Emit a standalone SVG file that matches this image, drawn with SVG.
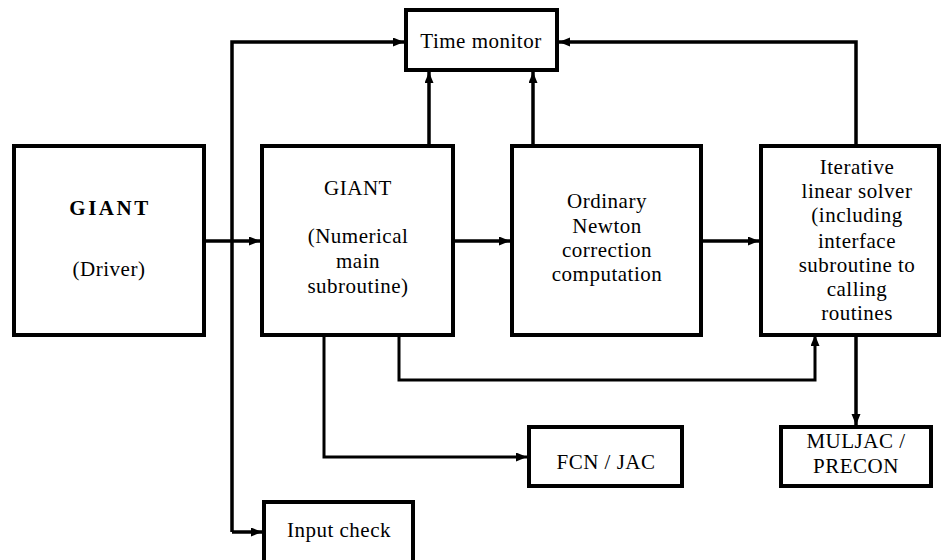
<svg xmlns="http://www.w3.org/2000/svg" width="942" height="560" viewBox="0 0 942 560" font-family="Liberation Serif, DejaVu Serif, serif">
  <style>
    .box { fill: #ffffff; stroke: #000000; stroke-width: 4; }
    .edge { fill: none; stroke: #000000; stroke-width: 3.5; stroke-linejoin: miter; }
    .thin { stroke-width: 3; }
    .label { font-size: 21px; fill: #000000; text-anchor: middle; letter-spacing: 0.5px; }
    .bold { font-weight: bold; letter-spacing: 2.5px; }
  </style>
  <defs>
    <marker id="arrow" markerUnits="userSpaceOnUse" markerWidth="12" markerHeight="10" refX="11" refY="4.5" orient="auto">
      <path d="M0,0 L11,4.5 L0,9 z" fill="#000000"/>
    </marker>
  </defs>

  <rect width="942" height="560" fill="#ffffff"/>

  <!-- connectors -->
  <g id="connectors">
    <path class="edge" d="M206,241 H260" marker-end="url(#arrow)"/>
    <path class="edge" d="M455,241 H510" marker-end="url(#arrow)"/>
    <path class="edge" d="M703,241 H759" marker-end="url(#arrow)"/>
    <path class="edge" d="M429,144 V72" marker-end="url(#arrow)"/>
    <path class="edge" d="M533,144 V72" marker-end="url(#arrow)"/>
    <path class="edge" d="M856,144 V42 H559" marker-end="url(#arrow)"/>
    <path class="edge" d="M232,532 V42 H404" marker-end="url(#arrow)"/>
    <path class="edge" d="M232,532 H262" marker-end="url(#arrow)"/>
    <path class="edge thin" d="M324,335 V457 H527" marker-end="url(#arrow)"/>
    <path class="edge thin" d="M399,335 V380 H815 V335" marker-end="url(#arrow)"/>
    <path class="edge" d="M856,335 V425" marker-end="url(#arrow)"/>
  </g>

  <g id="time-monitor">
    <rect class="box" x="406" y="10" width="151" height="60"/>
    <text class="label" x="481" y="48" font-family="Liberation Serif, serif">Time monitor</text>
  </g>

  <g id="driver">
    <rect class="box" x="14" y="146" width="190" height="189"/>
    <text class="label bold" x="110" y="215">GIANT</text>
    <text class="label" x="109" y="276">(Driver)</text>
  </g>

  <g id="main-subroutine">
    <rect class="box" x="262" y="146" width="191" height="189"/>
    <text class="label" x="358" y="195">GIANT</text>
    <text class="label" x="358" y="243">(Numerical</text>
    <text class="label" x="358" y="268">main</text>
    <text class="label" x="358" y="293">subroutine)</text>
  </g>

  <g id="newton-correction">
    <rect class="box" x="512" y="146" width="189" height="189"/>
    <text class="label" x="607" y="208">Ordinary</text>
    <text class="label" x="607" y="233">Newton</text>
    <text class="label" x="607" y="257">correction</text>
    <text class="label" x="607" y="281">computation</text>
  </g>

  <g id="linear-solver">
    <rect class="box" x="761" y="146" width="178" height="189"/>
    <text class="label" x="857" y="174">Iterative</text>
    <text class="label" x="857" y="198">linear solver</text>
    <text class="label" x="857" y="222">(including</text>
    <text class="label" x="857" y="248">interface</text>
    <text class="label" x="857" y="272">subroutine to</text>
    <text class="label" x="857" y="296">calling</text>
    <text class="label" x="857" y="320">routines</text>
  </g>

  <g id="fcn-jac">
    <rect class="box" x="529" y="427" width="153" height="59"/>
    <text class="label" x="606" y="469">FCN / JAC</text>
  </g>

  <g id="muljac-precon">
    <rect class="box" x="781" y="427" width="150" height="59"/>
    <text class="label" x="856" y="448">MULJAC /</text>
    <text class="label" x="856" y="473">PRECON</text>
  </g>

  <g id="input-check">
    <rect class="box" x="264" y="502" width="149" height="80"/>
    <text class="label" x="339" y="537">Input check</text>
  </g>
</svg>
